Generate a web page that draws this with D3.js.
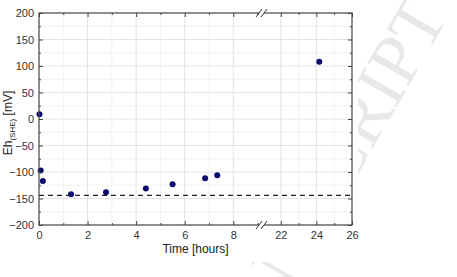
<!DOCTYPE html>
<html>
<head>
<meta charset="utf-8">
<script src="https://cdn.jsdelivr.net/npm/d3@7"></script>
<style>
  body { margin: 0; background: #fff; }
  svg { display: block; font-family: "Liberation Sans", Arial, sans-serif; }
</style>
</head>
<body>
<svg></svg>
<script>
var width = 457;
var height = 277;

// data
var timeHours = [0.02, 0.07, 0.16, 1.32, 2.76, 4.40, 5.50, 6.84, 7.34, 24.16];
var ehMV = [9, -97, -117, -142, -138, -131, -123, -112, -106, 108];
var baselineMV = -144;

var xTicksLeft = [0, 2, 4, 6, 8];
var xTicksRight = [22, 24, 26];
var yTicks = [-200, -150, -100, -50, 0, 50, 100, 150, 200];

var pLeft = 39, pRight = 352, pTop = 13, pBottom = 225;
var breakLeft = 260, breakRight = 263;

var svg = d3.select("svg")
  .attr("width", width)
  .attr("height", height);

// watermark, only visible outside the chart image
svg.append("text")
  .attr("transform", "translate(449,16) rotate(-60)")
  .attr("text-anchor", "end")
  .attr("font-family", "'Liberation Serif', 'DejaVu Serif', serif")
  .attr("font-size", 72)
  .attr("fill", "#e8e8e8")
  .text("ACCEPTED MANUSCRIPT");

svg.append("rect")
  .attr("x", 0).attr("y", 0)
  .attr("width", 358).attr("height", 262)
  .attr("fill", "#fff");

// broken x axis = two linear scales
var xA = d3.scaleLinear().domain([0, 9.1]).range([pLeft, breakLeft]);
var xB = d3.scaleLinear().domain([21, 26]).range([breakRight, pRight]);
var x = t => t <= 15 ? xA(t) : xB(t);
var y = d3.scaleLinear().domain([-200, 200]).range([pBottom, pTop]);

var minorA = d3.range(1, 10);
var minorB = d3.range(21, 27);
var yMinor = d3.range(-175, 200, 50);
var fmt = d3.format("d");

// grid
var grid = svg.append("g");
grid.selectAll(".gy-minor")
  .data(yMinor)
  .enter().append("line")
    .attr("x1", pLeft).attr("x2", pRight)
    .attr("y1", d => y(d)).attr("y2", d => y(d))
    .attr("stroke", "#f1f1f1");
grid.selectAll(".gy")
  .data(yTicks.slice(1, -1))
  .enter().append("line")
    .attr("x1", pLeft).attr("x2", pRight)
    .attr("y1", d => y(d)).attr("y2", d => y(d))
    .attr("stroke", "#e3e3e3");
grid.selectAll(".gx")
  .data(minorA.filter(d => d <= 8).concat([22, 23, 24, 25]))
  .enter().append("line")
    .attr("x1", d => x(d)).attr("x2", d => x(d))
    .attr("y1", pTop).attr("y2", pBottom)
    .attr("stroke", d => d % 2 == 0 ? "#e3e3e3" : "#f1f1f1");

// baseline
svg.append("line")
  .attr("x1", pLeft).attr("x2", pRight)
  .attr("y1", y(baselineMV)).attr("y2", y(baselineMV))
  .attr("stroke", "#222")
  .attr("stroke-width", 1.3)
  .attr("stroke-dasharray", "5,4");

// points
svg.append("g")
  .selectAll("circle")
  .data(timeHours)
  .enter()
  .append("circle")
    .attr("cx", d => x(d))
    .attr("cy", (d, i) => y(ehMV[i]))
    .attr("r", 3)
    .attr("fill", "#0b0b6e");

// axes
function styleAxis(g) {
  g.select(".domain").remove();
  g.selectAll(".tick line").attr("stroke", "#444");
  g.selectAll(".tick text").attr("fill", "#333").attr("font-size", 11);
}

function addAxis(axis, tx, ty) {
  svg.append("g").attr("transform", "translate(" + tx + "," + ty + ")")
    .call(axis)
    .call(styleAxis);
}

addAxis(d3.axisBottom(xA).tickValues(xTicksLeft).tickFormat(fmt).tickSize(-4).tickPadding(6), 0, pBottom);
addAxis(d3.axisBottom(xB).tickValues(xTicksRight).tickFormat(fmt).tickSize(-4).tickPadding(6), 0, pBottom);
addAxis(d3.axisBottom(xA).tickValues(minorA.filter(d => d % 2)).tickSize(-2).tickFormat(""), 0, pBottom);
addAxis(d3.axisBottom(xB).tickValues(minorB.filter(d => d % 2)).tickSize(-2).tickFormat(""), 0, pBottom);

addAxis(d3.axisTop(xA).tickValues(xTicksLeft).tickSize(-4).tickFormat(""), 0, pTop);
addAxis(d3.axisTop(xB).tickValues(xTicksRight).tickSize(-4).tickFormat(""), 0, pTop);
addAxis(d3.axisTop(xA).tickValues(minorA.filter(d => d % 2)).tickSize(-2).tickFormat(""), 0, pTop);
addAxis(d3.axisTop(xB).tickValues(minorB.filter(d => d % 2)).tickSize(-2).tickFormat(""), 0, pTop);

addAxis(d3.axisLeft(y).tickValues(yTicks).tickFormat(fmt).tickSize(-4).tickPadding(5), pLeft, 0);
addAxis(d3.axisLeft(y).tickValues(yMinor).tickSize(-2).tickFormat(""), pLeft, 0);
addAxis(d3.axisRight(y).tickValues(yTicks).tickSize(-4).tickFormat(""), pRight, 0);
addAxis(d3.axisRight(y).tickValues(yMinor).tickSize(-2).tickFormat(""), pRight, 0);

// frame
svg.append("rect")
  .attr("x", pLeft).attr("y", pTop)
  .attr("width", pRight - pLeft).attr("height", pBottom - pTop)
  .attr("fill", "none")
  .attr("stroke", "#444")
  .attr("stroke-width", 1.2);

// break marks
[pTop, pBottom].forEach(function(yy) {
  svg.append("rect")
    .attr("x", breakLeft - 1).attr("y", yy - 2)
    .attr("width", breakRight - breakLeft + 2).attr("height", 4)
    .attr("fill", "#fff");
  [breakLeft - 1, breakRight + 1].forEach(function(xx) {
    svg.append("line")
      .attr("x1", xx - 3).attr("y1", yy + 4)
      .attr("x2", xx + 3).attr("y2", yy - 4)
      .attr("stroke", "#333")
      .attr("stroke-width", 1);
  });
});

// titles
svg.append("text")
  .attr("x", (pLeft + pRight) / 2)
  .attr("y", 253)
  .attr("text-anchor", "middle")
  .attr("font-size", 12)
  .attr("fill", "#222")
  .text("Time [hours]");

var yt = svg.append("text")
  .attr("transform", "translate(12,123) rotate(-90)")
  .attr("text-anchor", "middle")
  .attr("font-size", 12)
  .attr("fill", "#222");
yt.append("tspan").text("Eh");
yt.append("tspan").attr("font-size", 8).attr("dy", 3).text("(SHE)");
yt.append("tspan").attr("dy", -3).text(" [mV]");
</script>
</body>
</html>
